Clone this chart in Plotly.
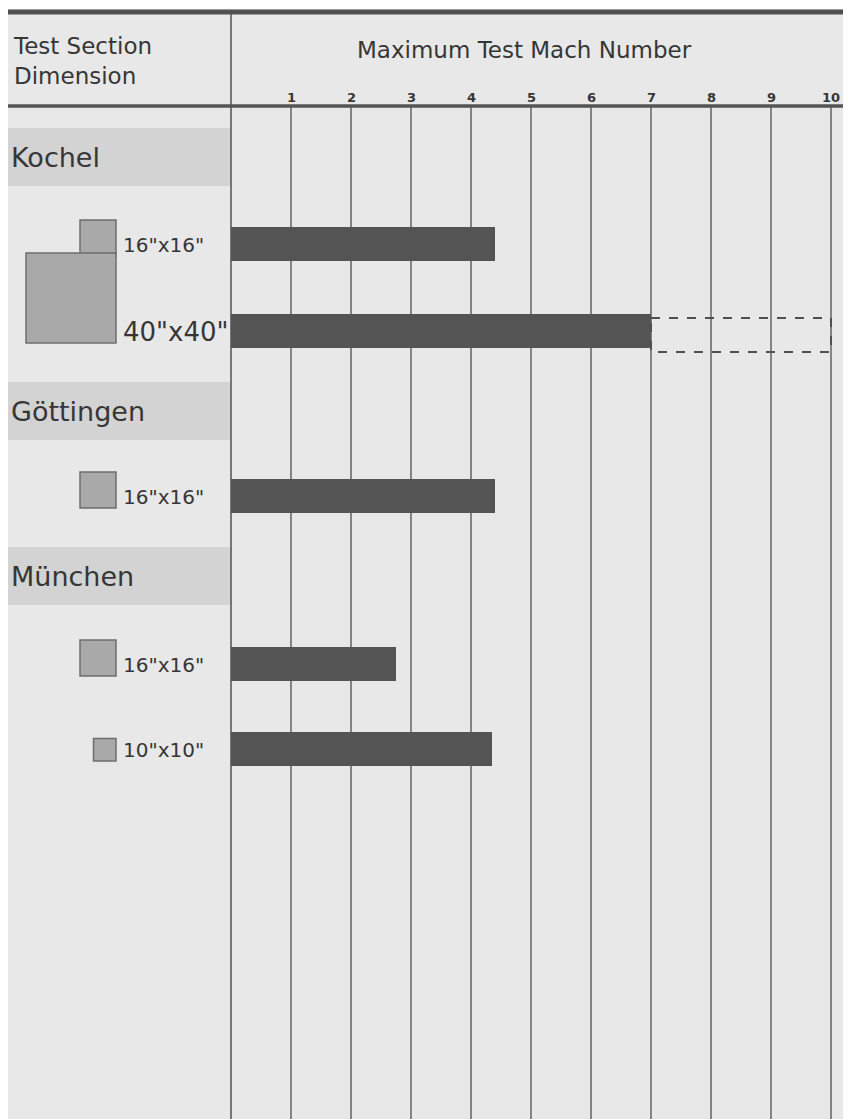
import plotly.graph_objects as go

# ---------------- data ----------------
groups = ["Kochel", "Göttingen", "München"]
row_group = ["Kochel", "Kochel", "Göttingen", "München", "München"]
size_labels = ['16"x16"', '40"x40"', '16"x16"', '16"x16"', '10"x10"']
size_inches = [16, 40, 16, 16, 10]
max_mach = [4.4, 7.0, 4.4, 2.75, 4.35]
projected_mach = [None, 10.0, None, None, None]
mach_ticks = [1, 2, 3, 4, 5, 6, 7, 8, 9, 10]
header_left = "Test Section<br>Dimension"
header_right = "Maximum Test Mach Number"

# ---------------- layout constants (screen pixels) ----------------
WIN_W, WIN_H = 851, 1119
OFF = 8                     # page body margin
W, H = WIN_W - OFF, WIN_H - OFF
X0 = 231                    # pixel of Mach 0
S = 60.0                    # pixels per Mach unit
row_y = [244, 331, 496, 664, 749]
group_y = [157, 411, 576]
BAR_W = 34
PX_PER_INCH = 2.25
SQ_RIGHT = 116
HEADER_LINE = 106
TOP_LINE = 12

INK = "#363636"
BAR = "#545454"
GRID = "#6a6a6a"
BAND = "#d3d3d3"
PAPER = "#e8e8e8"
SQ_FILL = "#a9a9a9"
SQ_LINE = "#6e6e6e"
FONT = "DejaVu Sans"


def px(p):
    return (p - X0) / S


fig = go.Figure()

fig.add_trace(go.Bar(
    orientation="h",
    x=max_mach,
    y=row_y,
    width=BAR_W,
    marker=dict(color=BAR, line=dict(width=0)),
    hoverinfo="skip",
    showlegend=False,
))

shapes = []
shapes.append(dict(type="rect", xref="x", yref="y", x0=px(0), x1=px(WIN_W + 5), y0=0, y1=TOP_LINE - 3,
                   fillcolor="#fbfbfb", line=dict(width=0), layer="below"))
for g, gy in zip(groups, group_y):
    shapes.append(dict(type="rect", xref="x", yref="y", x0=px(4), x1=0, y0=gy - 29, y1=gy + 29,
                       fillcolor=BAND, line=dict(width=0), layer="below"))
for t in mach_ticks:
    shapes.append(dict(type="line", xref="x", yref="y", x0=t, x1=t, y0=HEADER_LINE, y1=WIN_H + 5,
                       line=dict(color=GRID, width=1.6), layer="below"))
shapes.append(dict(type="line", xref="x", yref="y", x0=0, x1=0, y0=TOP_LINE, y1=WIN_H + 5,
                   line=dict(color="#5a5a5a", width=1.6), layer="below"))
shapes.append(dict(type="line", xref="x", yref="y", x0=px(0), x1=px(WIN_W + 5), y0=TOP_LINE, y1=TOP_LINE,
                   line=dict(color="#505050", width=5)))
shapes.append(dict(type="line", xref="x", yref="y", x0=px(0), x1=px(WIN_W + 5), y0=HEADER_LINE, y1=HEADER_LINE,
                   line=dict(color="#555555", width=3.5)))
for m, p, y in zip(max_mach, projected_mach, row_y):
    if p is not None:
        shapes.append(dict(type="rect", xref="x", yref="y", x0=m, x1=p, y0=y - 13, y1=y + 21,
                           fillcolor="rgba(0,0,0,0)",
                           line=dict(color="#505050", width=2, dash="dash")))
for inch, y in zip(size_inches, row_y):
    side = inch * PX_PER_INCH
    bottom = y + 12
    shapes.append(dict(type="rect", xref="x", yref="y", x0=px(SQ_RIGHT - side), x1=px(SQ_RIGHT),
                       y0=bottom - side, y1=bottom,
                       fillcolor=SQ_FILL, line=dict(color=SQ_LINE, width=1.5)))

annotations = []
annotations.append(dict(x=px(11), y=61, xref="x", yref="y", text=header_left, showarrow=False,
                        xanchor="left", yanchor="middle", align="left",
                        font=dict(family=FONT, size=23, color=INK)))
annotations.append(dict(x=px(524), y=50, xref="x", yref="y", text=header_right, showarrow=False,
                        xanchor="center", yanchor="middle",
                        font=dict(family=FONT, size=23, color=INK)))
for t in mach_ticks:
    annotations.append(dict(x=t, y=97, xref="x", yref="y", text="<b>%d</b>" % t, showarrow=False,
                            xanchor="center", yanchor="middle",
                            font=dict(family=FONT, size=13, color=INK)))
for g, gy in zip(groups, group_y):
    annotations.append(dict(x=px(9), y=gy, xref="x", yref="y", text=g, showarrow=False,
                            xanchor="left", yanchor="middle",
                            font=dict(family=FONT, size=27, color=INK)))
for lab, inch, y in zip(size_labels, size_inches, row_y):
    annotations.append(dict(x=px(121), y=y + 1, xref="x", yref="y", text=lab, showarrow=False,
                            xanchor="left", yanchor="middle",
                            font=dict(family=FONT, size=26 if inch >= 40 else 20, color=INK)))

fig.update_layout(
    width=W, height=H, autosize=False,
    margin=dict(l=0, r=0, t=0, b=0, pad=0),
    paper_bgcolor=PAPER, plot_bgcolor=PAPER,
    shapes=shapes, annotations=annotations,
    xaxis=dict(range=[px(OFF), px(WIN_W)], showgrid=False, zeroline=False, showticklabels=False,
               ticks="", fixedrange=True),
    yaxis=dict(range=[WIN_H, OFF], showgrid=False, zeroline=False, showticklabels=False,
               ticks="", fixedrange=True),
    bargap=0,
)

fig.write_html("out.html")
